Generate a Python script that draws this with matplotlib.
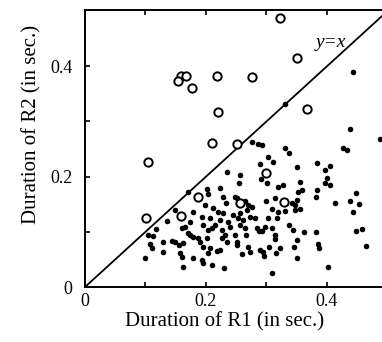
import matplotlib
matplotlib.use('Agg')
import matplotlib.pyplot as plt
import numpy as np

plt.rcParams['font.family'] = ['Liberation Serif', 'DejaVu Serif']

# open circles: R2 longer than R1 (or outliers)
open_r1 = [0.322, 0.350, 0.276, 0.367, 0.251, 0.159, 0.167, 0.154, 0.177, 0.218,
           0.220, 0.210, 0.104, 0.101, 0.159, 0.187, 0.300, 0.256, 0.329]
open_r2 = [0.487, 0.415, 0.380, 0.322, 0.259, 0.382, 0.382, 0.373, 0.361, 0.382,
           0.317, 0.261, 0.226, 0.125, 0.129, 0.163, 0.206, 0.152, 0.154]

# filled dots
dot_r1 = [0.443, 0.331, 0.438, 0.488, 0.276, 0.286, 0.289, 0.291, 0.235, 0.256,
          0.255, 0.170, 0.202, 0.203, 0.223, 0.228, 0.233, 0.251, 0.269, 0.276,
          0.198, 0.212, 0.149, 0.293, 0.331, 0.337, 0.302, 0.311, 0.350, 0.383,
          0.397, 0.405, 0.426, 0.433, 0.301, 0.319, 0.327, 0.355, 0.358, 0.352,
          0.397, 0.400, 0.405, 0.383, 0.382, 0.299, 0.314, 0.342, 0.347, 0.350,
          0.413, 0.438, 0.448, 0.453, 0.355, 0.309, 0.319, 0.331, 0.347, 0.443,
          0.302, 0.317, 0.298, 0.309, 0.293, 0.314, 0.314, 0.337, 0.344, 0.362,
          0.382, 0.350, 0.345, 0.304, 0.322, 0.385, 0.387, 0.294, 0.296, 0.316,
          0.350, 0.402, 0.309, 0.448, 0.458, 0.464, 0.136, 0.117, 0.104, 0.112,
          0.107, 0.111, 0.099, 0.129, 0.129, 0.144, 0.149, 0.155, 0.162, 0.157,
          0.160, 0.162, 0.179, 0.193, 0.195, 0.210, 0.230, 0.203, 0.207, 0.218,
          0.223, 0.160, 0.165, 0.174, 0.179, 0.170, 0.179, 0.174, 0.187, 0.193,
          0.195, 0.190, 0.195, 0.202, 0.203, 0.210, 0.220, 0.228, 0.207, 0.223,
          0.215, 0.226, 0.231, 0.226, 0.235, 0.240, 0.236, 0.245, 0.253, 0.256,
          0.268, 0.261, 0.256, 0.248, 0.251, 0.251, 0.264, 0.266, 0.273, 0.281,
          0.284, 0.288, 0.269, 0.273, 0.259, 0.289, 0.248, 0.264]
dot_r2 = [0.390, 0.332, 0.286, 0.268, 0.263, 0.259, 0.223, 0.196, 0.208, 0.203,
          0.188, 0.172, 0.178, 0.168, 0.179, 0.163, 0.152, 0.161, 0.149, 0.145,
          0.149, 0.143, 0.139, 0.257, 0.252, 0.243, 0.236, 0.226, 0.217, 0.225,
          0.212, 0.219, 0.252, 0.248, 0.188, 0.181, 0.185, 0.190, 0.176, 0.172,
          0.188, 0.197, 0.185, 0.176, 0.163, 0.156, 0.161, 0.152, 0.149, 0.158,
          0.152, 0.156, 0.170, 0.150, 0.141, 0.141, 0.136, 0.138, 0.139, 0.136,
          0.125, 0.125, 0.109, 0.107, 0.101, 0.094, 0.087, 0.112, 0.103, 0.100,
          0.100, 0.085, 0.072, 0.072, 0.071, 0.078, 0.071, 0.063, 0.056, 0.062,
          0.053, 0.036, 0.025, 0.101, 0.105, 0.074, 0.120, 0.105, 0.094, 0.092,
          0.078, 0.071, 0.053, 0.082, 0.063, 0.083, 0.082, 0.076, 0.080, 0.062,
          0.054, 0.036, 0.053, 0.049, 0.043, 0.040, 0.034, 0.062, 0.071, 0.065,
          0.067, 0.107, 0.109, 0.118, 0.136, 0.098, 0.091, 0.094, 0.089, 0.127,
          0.112, 0.082, 0.072, 0.089, 0.103, 0.107, 0.136, 0.134, 0.125, 0.121,
          0.112, 0.103, 0.094, 0.089, 0.082, 0.109, 0.118, 0.130, 0.125, 0.134,
          0.139, 0.121, 0.112, 0.094, 0.082, 0.076, 0.107, 0.094, 0.127, 0.125,
          0.107, 0.101, 0.072, 0.063, 0.060, 0.067, 0.163, 0.156]

fig = plt.figure(figsize=(3.82, 3.42), dpi=100)
ax = fig.add_axes([0.2225, 0.1608, 0.7775, 0.81])

ax.plot([0, 0.6], [0, 0.6], color='black', lw=1.3, zorder=1)
ax.plot(dot_r1, dot_r2, 'o', color='black', ms=4.0, mew=0, zorder=2)
ax.plot(open_r1, open_r2, 'o', mfc='white', mec='black', ms=6.0, mew=1.4, zorder=3)

ax.text(0.407, 0.443, 'y=x', style='italic', fontsize=14, ha='center', va='center')

ax.set_xlim(0, 0.491)
ax.set_ylim(0, 0.502)
ax.set_xticks([0, 0.1, 0.2, 0.3, 0.4])
ax.set_xticklabels(['0', '', '0.2', '', '0.4'])
ax.set_yticks([0, 0.1, 0.2, 0.3, 0.4])
ax.set_yticklabels(['0', '', '0.2', '', '0.4'])
ax.tick_params(direction='in', length=3.5, width=1.2, labelsize=13, top=True)
ax.tick_params(axis='x', pad=4)
ax.tick_params(axis='y', pad=9)
ax.spines['right'].set_visible(False)
for s in ['left', 'bottom', 'top']:
    ax.spines[s].set_linewidth(1.4)

fig.text(225 / 382, 1 - 322 / 342, 'Duration of R1 (in sec.)', fontsize=15,
         ha='center', va='center')
fig.text(32 / 382, 1 - 124 / 342, 'Duration of R2 (in sec.)', fontsize=15,
         ha='center', va='center', rotation=90)

fig.savefig('out.png', dpi=100)
